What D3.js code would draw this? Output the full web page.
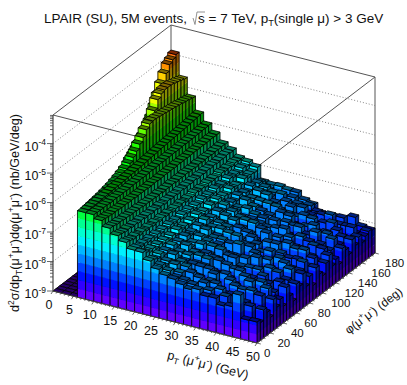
<!DOCTYPE html>
<html>
<head>
<meta charset="utf-8">
<script src="https://cdnjs.cloudflare.com/ajax/libs/d3/7.8.5/d3.min.js"></script>
<style>
html, body { margin: 0; padding: 0; background: #fff; }
text { font-family: "Liberation Sans", Arial, sans-serif; fill: #111; }
</style>
</head>
<body>
<div id="my_chart"></div>
<script>
// bins
var ptEdges = d3.range(0, 52, 2);
var phiEdges = d3.range(0, 185, 5);
var ptTicks = [0, 5, 10, 15, 20, 25, 30, 35, 40, 45, 50];
var phiTicks = [0, 20, 40, 60, 80, 100, 120, 140, 160, 180];
var zDecades = [-9, -8, -7, -6, -5, -4];

// log10(d2sigma/dpT/dphi), one row per pT bin, phi bins 0..175
var n = null;
var row00 = [n,n,n,n,n,n,n,n,n,n,n,n,n,n,n,n,n,n,n,n,n,n,n,n,n,n,n,n,-5.40,-5.10,-4.81,-4.53,-4.27,-4.05,-3.97,-3.88];
var row01 = [n,n,n,n,n,n,n,n,n,n,n,n,n,n,n,n,n,n,n,-6.02,-5.92,-5.80,-5.69,-5.53,-5.40,-5.20,-4.95,-4.66,-4.55,-4.50,-4.50,-4.51,-4.55,-4.58,-4.62,-4.66];
var row02 = [n,n,n,n,-6.32,-6.30,-6.28,-6.26,-6.24,-6.21,-6.18,-6.15,-6.10,-6.05,-5.99,-5.92,-5.82,-5.70,-5.58,-5.42,-5.28,-5.10,-4.99,-4.97,-4.98,-5.00,-5.02,-5.04,-5.06,-5.08,-5.10,-5.12,-5.15,-5.17,-5.20,-5.23];
var row03 = [-6.06,-6.05,-6.04,-6.04,-6.03,-6.02,-6.02,-6.01,-6.00,-5.99,-5.99,-5.98,-5.97,-5.96,-5.95,-5.94,-5.93,-5.92,-5.91,-5.89,-5.88,-5.87,-5.85,-5.84,-5.83,-5.82,-5.81,-5.80,-5.79,-5.78,-5.77,-5.76,-5.74,-5.73,-5.71,-5.70];
var row04 = [-6.06,-6.07,-6.08,-6.07,-6.08,-6.09,-6.08,-6.08,-6.09,-6.08,-6.09,-6.08,-6.07,-6.08,-6.07,-6.08,-6.07,-6.06,-6.07,-6.06,-6.05,-6.06,-6.05,-6.05,-6.04,-6.05,-6.04,-6.03,-6.04,-6.03,-6.03,-6.02,-6.02,-6.01,-6.01,-6.00];
var row05 = [-6.19,-6.21,-6.22,-6.24,-6.23,-6.25,-6.26,-6.25,-6.27,-6.26,-6.28,-6.27,-6.28,-6.27,-6.29,-6.28,-6.27,-6.29,-6.28,-6.27,-6.28,-6.27,-6.28,-6.26,-6.27,-6.26,-6.27,-6.26,-6.25,-6.26,-6.25,-6.26,-6.25,-6.24,-6.25,-6.24];
var row06 = [-6.38,-6.40,-6.43,-6.42,-6.45,-6.44,-6.47,-6.46,-6.48,-6.47,-6.50,-6.49,-6.51,-6.50,-6.52,-6.50,-6.53,-6.51,-6.52,-6.50,-6.53,-6.51,-6.52,-6.50,-6.52,-6.51,-6.53,-6.50,-6.52,-6.50,-6.51,-6.52,-6.50,-6.51,-6.49,-6.50];
var row07 = [-6.56,-6.59,-6.62,-6.60,-6.64,-6.62,-6.66,-6.63,-6.67,-6.65,-6.68,-6.65,-6.69,-6.66,-6.70,-6.66,-6.69,-6.67,-6.70,-6.66,-6.69,-6.66,-6.68,-6.65,-6.69,-6.66,-6.68,-6.65,-6.67,-6.64,-6.67,-6.65,-6.66,-6.63,-6.65,-6.64];
var row08 = [-6.72,-6.76,-6.80,-6.77,-6.83,-6.79,-6.85,-6.81,-6.86,-6.82,-6.88,-6.83,-6.87,-6.84,-6.90,-6.85,-6.88,-6.84,-6.90,-6.86,-6.89,-6.83,-6.88,-6.85,-6.90,-6.84,-6.87,-6.85,-6.89,-6.83,-6.87,-6.84,-6.88,-6.83,-6.86,-6.84];
var row09 = [-6.91,-6.93,-6.98,-6.94,-7.00,-6.95,-7.03,-6.97,-7.04,-6.98,-7.06,-6.99,-7.05,-7.00,-7.07,-6.99,-7.04,-6.98,-7.08,-7.01,-7.05,-6.97,-7.06,-7.00,-7.04,-6.96,-7.03,-6.99,-7.05,-6.95,-7.01,-6.97,-7.02,-6.93,-6.98,-6.90];
var row10 = [-6.92,-7.02,-7.10,-7.05,-7.15,-7.08,-7.17,-7.10,-7.20,-7.12,-7.22,-7.09,-7.18,-7.13,-7.23,-7.11,-7.19,-7.08,-7.21,-7.14,-7.24,-7.10,-7.17,-7.07,-7.20,-7.13,-7.18,-7.06,-7.16,-7.11,-7.19,-7.05,-7.13,-7.08,-7.10,-7.00];
var row11 = [-7.14,-7.18,-7.25,-7.16,-7.30,-7.21,-7.33,-7.20,-7.35,-7.25,-7.38,-7.23,-7.31,-7.26,-7.40,-7.22,-7.34,-7.19,-7.36,-7.28,-7.41,-7.24,-7.32,-7.20,-7.37,-7.27,-7.33,-7.21,-7.39,-7.29,-7.35,-7.23,-7.42,-7.30,-7.36,-7.44];
var row12 = [-7.35,-7.30,-7.42,-7.33,-7.45,-7.28,-7.48,-7.36,-7.52,-7.31,-7.46,-7.38,-7.55,-7.34,-7.47,-7.29,-7.50,-7.37,-7.58,-7.40,-7.49,-7.32,-7.53,-7.35,-7.44,-7.39,-7.56,-7.30,-7.48,-7.41,-7.51,-7.33,-7.46,-7.38,-7.54,-7.47];
var row13 = [-7.49,-7.42,-7.55,-7.38,-7.60,-7.46,-7.52,-7.40,-7.66,-7.48,-7.57,-7.37,-7.62,-7.44,-7.68,-7.50,-7.53,-7.36,-7.70,-7.47,-7.59,-7.41,-7.64,-7.49,-7.56,-7.35,-7.67,-7.45,-7.58,-7.43,-7.61,-7.39,-7.54,-7.48,-7.63,-7.45];
var row14 = [-7.55,-7.58,-7.50,-7.68,-7.47,-7.72,-7.55,-7.61,-7.44,-7.75,-7.52,-7.65,-7.46,-7.78,-7.57,-7.49,-7.70,-7.43,-7.63,-7.74,-7.51,-7.60,-7.42,-7.76,-7.56,-7.48,-7.69,-7.53,-7.80,-7.45,-7.62,-7.58,-7.71,-7.47,-7.66,-7.50];
var row15 = [-7.66,-7.60,-7.78,-7.52,-7.70,-7.82,-7.57,-7.64,-7.48,-7.85,-7.62,-7.74,-7.50,-7.69,-7.88,-7.55,-7.77,-7.46,-7.66,-7.83,-7.59,-7.72,-7.45,-7.80,-7.63,-7.54,-7.90,-7.61,-7.75,-7.49,-7.68,-7.84,-7.56,-7.73,-7.60,-7.51];
var row16 = [-7.76,-7.68,-7.90,-7.62,-7.82,-7.95,-7.58,-7.73,-7.88,-7.55,-7.80,-7.99,-7.64,-7.71,-7.93,-7.50,-7.85,-7.67,-8.02,-7.60,-7.78,-7.91,-7.57,-7.86,-7.70,-7.97,-7.63,-7.81,-7.53,-7.94,-7.74,-7.59,-7.89,-7.66,-7.83,-7.70];
var row17 = [-7.69,-7.86,-7.64,-8.00,-7.75,-7.59,-7.92,-7.80,-8.06,-7.62,-7.88,-7.55,-7.97,-7.72,-7.84,-8.10,-7.60,-7.90,-7.68,-7.78,-8.03,-7.56,-7.87,-7.95,-7.65,-7.82,-8.08,-7.70,-7.58,-7.93,-7.76,-8.01,-7.63,-7.89,-7.73,-7.78];
var row18 = [-7.85,-7.74,-8.05,-7.68,-7.93,-8.12,-7.61,-7.83,-7.98,-7.70,-8.15,-7.78,-7.58,-8.02,-7.88,-7.66,-8.18,-7.80,-7.94,-7.63,-8.07,-7.86,-7.72,-8.11,-7.60,-7.91,-8.00,-7.76,-7.84,-8.14,-7.65,-7.96,-7.81,-8.09,-7.87,-8.00];
var row19 = [-7.84,-8.02,-7.72,-7.94,-8.20,-7.66,-7.88,-8.08,-7.60,-7.99,-8.24,-7.75,-7.90,-7.57,-8.13,-7.83,-8.28,-7.69,-7.96,-7.62,-8.16,-7.85,-8.05,-7.73,-7.92,-8.22,-7.64,-8.00,-7.79,-8.11,-7.70,-7.97,-8.18,-7.82,-8.03,-8.05];
var row20 = [-8.03,-7.80,-8.15,-7.92,-7.70,-8.25,-8.00,-7.63,-8.10,-7.86,-8.30,-7.74,-8.06,-7.95,-7.66,-8.20,-7.89,-8.34,-7.78,-8.02,-7.61,-8.14,-7.90,-8.27,-7.72,-8.08,-7.83,-8.19,-7.68,-7.98,-8.32,-7.85,-8.12,-7.75,-8.04,-8.00];
var row21 = [-7.98,-8.18,-7.84,-8.30,-7.76,-8.05,-7.65,-8.22,-7.93,-8.38,-7.80,-8.12,-7.70,-8.28,-7.97,-7.62,-8.16,-8.40,-7.88,-8.08,-7.73,-8.25,-7.91,-8.34,-7.82,-8.02,-7.67,-8.20,-8.36,-7.94,-8.10,-7.78,-8.26,-8.00,-7.86,-8.10];
var row22 = [-7.52,-8.10,-7.95,-8.35,-7.72,-8.20,-8.02,-7.68,-8.30,-7.90,-8.14,-8.42,-7.78,-8.05,-7.63,-8.26,-7.98,-8.38,-7.85,-8.16,-7.70,-8.32,-8.08,-7.80,-8.24,-7.93,-8.44,-7.75,-8.12,-8.28,-7.88,-8.18,-8.36,-8.00,-8.22,-7.85];
var row23 = [-8.30,-7.92,-8.24,-8.40,-7.82,-8.15,-7.74,-8.34,-8.04,-8.46,-7.86,-8.20,-7.96,-7.68,-8.28,-8.42,-8.00,-7.78,-8.36,-8.10,-7.90,-8.48,-8.18,-7.84,-8.30,-8.06,-7.76,-8.38,-8.12,-7.94,-8.26,-8.44,-7.88,-8.16,-8.32,-8.10];
var row24 = [-8.29,-8.40,-8.05,-8.22,-8.48,-7.95,-8.30,-8.12,-8.44,-7.88,-8.26,-8.52,-8.02,-8.18,-7.85,-8.36,-8.10,-8.50,-7.98,-8.28,-8.42,-8.08,-7.90,-8.34,-8.20,-8.46,-8.00,-8.14,-8.38,-7.96,-8.24,-8.04,-8.32,-8.18,-8.10,-8.15];
var rows = [row00,row01,row02,row03,row04,row05,row06,row07,row08,row09,row10,row11,row12,row13,row14,row15,row16,row17,row18,row19,row20,row21,row22,row23,row24];

// 20 colour levels of the palette, bottom to top of the z axis
var palette = ["#6000ff","#3000ff","#0010ff","#0040ff","#0080ff","#00b8ff","#00f0ff","#00ffd0","#00ff90","#00ff40","#00ff10","#20ff00","#60ff00","#a0ff00","#f0ff00","#ffd000","#ff9000","#ff5000","#ff2000","#e00000"];

var width = 407, height = 385;
var zMin = 1e-9, zMax = 9.3e-4;

var svg = d3.select("#my_chart").append("svg")
  .attr("width", width).attr("height", height)
  .style("display", "block");

// scales go to 0..1 along each box edge, then the box vectors put them on the page
var x = d3.scaleLinear().domain([0, 50]).range([0, 1]);
var y = d3.scaleLinear().domain([0, 180]).range([0, 1]);
var z = d3.scaleLog().domain([zMin, zMax]).range([0, 1]);
var level = d3.scaleLinear().domain([0, 1]).range([0, palette.length]);

var corner = [53, 291], ex = [204, 52], ey = [118, -90], ez = [0, -176];

function project(pt, phi, val) {
  var a = x(pt), b = y(phi), c = z(val);
  return [corner[0] + a * ex[0] + b * ey[0] + c * ez[0],
          corner[1] + a * ex[1] + b * ey[1] + c * ez[1]];
}

function line(g, a, b, color, w, dash) {
  return g.append("line")
    .attr("x1", a[0]).attr("y1", a[1]).attr("x2", b[0]).attr("y2", b[1])
    .attr("stroke", color).attr("stroke-width", w)
    .attr("stroke-dasharray", dash || null);
}

function shade(c, f) {
  var r = d3.rgb(c);
  return d3.rgb(r.r * f, r.g * f, r.b * f).formatHex();
}

// back box and grid, the histogram paints over them
var boxColor = "#555";
var box = svg.append("g");
zDecades.forEach(function(e) {
  var v = Math.pow(10, e);
  line(box, project(0, 0, v), project(0, 180, v), "#888", 1, "1,2");
  line(box, project(0, 180, v), project(50, 180, v), "#888", 1, "1,2");
});
line(box, project(0, 0, zMax), project(0, 180, zMax), boxColor, 1);
line(box, project(0, 180, zMax), project(50, 180, zMax), boxColor, 1);
line(box, project(50, 180, zMax), project(50, 0, zMax), boxColor, 1);
line(box, project(0, 0, zMax), project(50, 0, zMax), boxColor, 1);
line(box, project(0, 180, zMin), project(0, 180, zMax), boxColor, 1);
line(box, project(50, 180, zMin), project(50, 180, zMax), boxColor, 1);
line(box, project(0, 0, zMin), project(0, 180, zMin), boxColor, 1);
line(box, project(0, 180, zMin), project(50, 180, zMin), boxColor, 1);

// lego columns, back to front
var lego = svg.append("g");

function poly(pts, fill, stroke, w) {
  lego.append("polygon")
    .attr("points", pts.map(function(p) { return p[0].toFixed(2) + "," + p[1].toFixed(2); }).join(" "))
    .attr("fill", fill)
    .attr("stroke", stroke)
    .attr("stroke-width", w);
}

// one side wall between two ground points, cut in the colour levels
function wall(p0, f0, p1, f1, zTop, factor) {
  var topLevel = level(z(zTop));
  var i = 0;
  while (i < topLevel) {
    var lo = z.invert(level.invert(i));
    var hi = z.invert(Math.min(level.invert(i + 1), z(zTop)));
    var c = shade(palette[i], factor);
    poly([project(p0, f0, lo), project(p1, f1, lo), project(p1, f1, hi), project(p0, f0, hi)], c, c, 0.3);
    i += 1;
  }
  poly([project(p0, f0, zMin), project(p1, f1, zMin), project(p1, f1, zTop), project(p0, f0, zTop)], "none", "#000", 0.8);
}

for (var j = phiEdges.length - 2; j >= 0; j--) {
  for (var i = 0; i < ptEdges.length - 1; i++) {
    var p0 = ptEdges[i], p1 = ptEdges[i + 1], f0 = phiEdges[j], f1 = phiEdges[j + 1];
    var lv = rows[i][j];
    var zTop = lv === null ? zMin : Math.pow(10, lv);
    if (lv !== null) {
      wall(p1, f0, p1, f1, zTop, 0.55);
      wall(p0, f0, p1, f0, zTop, 1);
    }
    var k = Math.min(palette.length - 1, Math.floor(level(z(zTop))));
    poly([project(p0, f0, zTop), project(p1, f0, zTop), project(p1, f1, zTop), project(p0, f1, zTop)],
      shade(palette[k], lv === null ? 0.4 : 0.5), "#000", 0.8);
  }
}

// axes
var axisColor = "#444";
var axes = svg.append("g");
line(axes, project(0, 0, zMin), project(0, 0, zMax), axisColor, 1.2);
line(axes, project(0, 0, zMin), project(50, 0, zMin), axisColor, 1);
line(axes, project(50, 0, zMin), project(50, 180, zMin), axisColor, 1);

zDecades.forEach(function(e) {
  d3.range(1, 10).forEach(function(m) {
    var v = m * Math.pow(10, e);
    if (v > zMax) return;
    var p = project(0, 0, v);
    line(axes, p, [p[0] - (m === 1 ? 6 : 3), p[1]], axisColor, 0.8);
  });
});
d3.range(0, 51, 1).forEach(function(t) {
  var p = project(t, 0, zMin);
  var big = t % 5 === 0;
  line(axes, p, [p[0] - (big ? 2 : 1), p[1] + (big ? 3 : 1.5)], axisColor, 0.8);
});
d3.range(0, 181, 5).forEach(function(t) {
  var p = project(50, t, zMin);
  var big = t % 20 === 0;
  line(axes, p, [p[0] + (big ? 3.8 : 1.9), p[1] + (big ? 1 : 0.5)], axisColor, 0.8);
});

// text made of plain, raised and lowered parts
function rich(sel, parts, size) {
  var shift = 0;
  parts.forEach(function(part) {
    var kind = part[1] || 0;
    var target = kind === 1 ? -0.42 * size : kind === -1 ? 0.25 * size : 0;
    sel.append("tspan")
      .attr("dy", target - shift)
      .attr("font-size", kind ? size * 0.68 : size)
      .text(part[0]);
    shift = target;
  });
  return sel;
}

function label(px, py, anchor, rotate, parts, size) {
  var t = svg.append("text")
    .attr("text-anchor", anchor)
    .attr("font-size", size)
    .attr("transform", "translate(" + px + "," + py + ") rotate(" + rotate + ")");
  return rich(t, parts, size);
}

zDecades.forEach(function(e) {
  var p = project(0, 0, Math.pow(10, e));
  label(46, p[1] + 7, "end", 0, [["10"], [String(e), 1]], 12.5);
});
ptTicks.forEach(function(t) {
  var p = project(t, 0, zMin);
  label(p[0] - 4, p[1] + 18, "middle", 0, [[String(t)]], 12.5);
});
phiTicks.forEach(function(t) {
  var p = project(50, t, zMin);
  label(p[0] + 7 + 3 * y(t), p[1] + 14, "start", 0, [[String(t)]], 11.5);
});

var mu = [["\u03bc"], ["+", 1], ["\u03bc"], ["-", 1]];
label(207, 369, "middle", 14.3, [["p"], ["T", -1], [" ("]].concat(mu, [[") (GeV)"]]), 12.5);
label(376, 314, "middle", -37, [["\u03c6("]].concat(mu, [[") (deg)"]]), 12);
label(19, 213, "middle", -90, [["d"], ["2", 1], ["\u03c3/dp"], ["T", -1], ["("]].concat(mu, [[")d\u03c6("]], mu, [[") (nb/GeV/deg)"]]), 12.6);

// title, the root sign is drawn by hand
label(44, 23, "start", 0, [["LPAIR (SU), 5M events,"]], 13.5);
line(svg, [193, 18], [195, 24.5], "#777", 0.8);
line(svg, [195, 24.5], [197, 12], "#777", 0.8);
line(svg, [197, 12], [205, 12], "#777", 0.8);
label(198, 23, "start", 0, [["s = 7 TeV, p"], ["T", -1], ["(single \u03bc) > 3 GeV"]], 13.5);
</script>
</body>
</html>
